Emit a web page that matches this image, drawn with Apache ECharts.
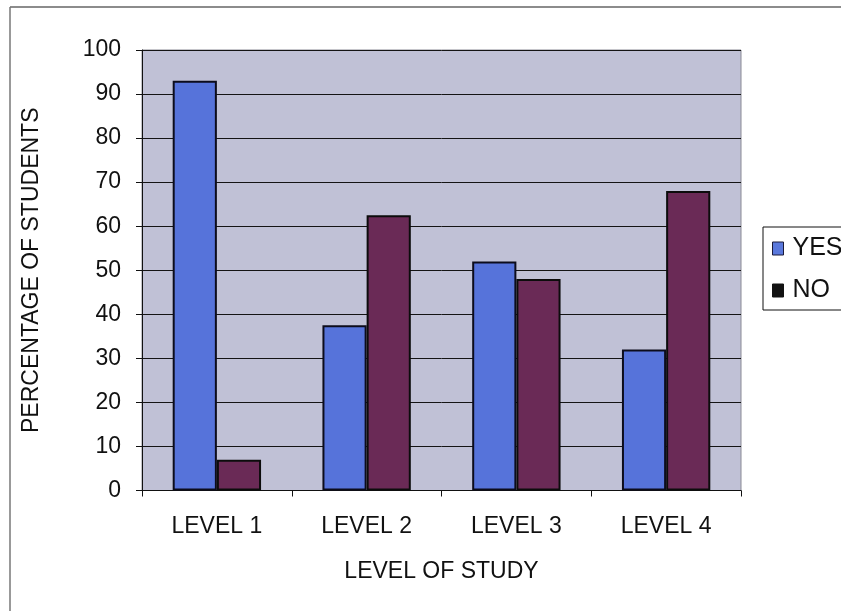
<!DOCTYPE html>
<html>
<head>
<meta charset="utf-8">
<script src="https://cdn.jsdelivr.net/npm/echarts@6/dist/echarts.min.js"></script>
<style>
  html, body { margin: 0; padding: 0; background: #fff; }
  #chart { width: 841px; height: 611px; }
</style>
</head>
<body>
<div id="chart"></div>
<script>
// Survey answers by level of study (percent of students)
const levels = ['LEVEL 1', 'LEVEL 2', 'LEVEL 3', 'LEVEL 4'];
const yesValues = [93, 37.5, 52, 32];
const noValues = [7, 62.5, 48, 68];
const seriesNames = ['YES', 'NO'];

const FONT = '"Liberation Sans", Arial, sans-serif';
const chart = echarts.init(document.getElementById('chart'), null, { renderer: 'canvas' });

chart.setOption({
  backgroundColor: '#ffffff',
  animation: false,
  textStyle: { fontFamily: FONT, color: '#111' },
  graphic: [
    { type: 'line', shape: { x1: 10, y1: 7, x2: 841, y2: 7 }, style: { stroke: '#666', lineWidth: 1.5 } },
    { type: 'line', shape: { x1: 10, y1: 7, x2: 10, y2: 611 }, style: { stroke: '#777', lineWidth: 1.5 } }
  ],
  grid: {
    left: 142, right: 100, top: 50, bottom: 120.5,
    show: true, backgroundColor: '#c0c1d6', borderColor: '#8a8a95', borderWidth: 1
  },
  legend: {
    data: [
      { name: seriesNames[0], itemStyle: { color: '#5a78dc', borderColor: '#1a1a3a', borderWidth: 1 } },
      { name: seriesNames[1], itemStyle: { color: '#121212', borderColor: '#121212', borderWidth: 1 } }
    ],
    orient: 'vertical',
    left: 763, top: 227,
    icon: 'rect',
    itemWidth: 11, itemHeight: 13,
    itemGap: 17,
    padding: [9, 40, 7, 9],
    borderColor: '#111', borderWidth: 1,
    textStyle: { fontSize: 25, fontFamily: FONT, color: '#111', padding: [0, 0, 0, 4] }
  },
  xAxis: {
    type: 'category',
    data: levels,
    name: 'LEVEL OF STUDY',
    nameLocation: 'middle',
    nameGap: 70,
    nameTextStyle: { fontSize: 23, fontFamily: FONT, color: '#111' },
    axisLine: { lineStyle: { color: '#111', width: 1 } },
    axisTick: { show: true, length: 6, lineStyle: { color: '#111' } },
    axisLabel: { fontSize: 23, fontFamily: FONT, color: '#111', margin: 25 },
    splitLine: { show: false }
  },
  yAxis: {
    type: 'value',
    min: 0, max: 100, interval: 10,
    name: 'PERCENTAGE OF STUDENTS',
    nameLocation: 'middle',
    nameGap: 99,
    nameTextStyle: { fontSize: 23, fontFamily: FONT, color: '#111' },
    axisLine: { show: true, lineStyle: { color: '#111', width: 1 } },
    axisTick: { show: true, inside: false, length: 6, lineStyle: { color: '#111' } },
    axisLabel: { fontSize: 23, fontFamily: FONT, color: '#111', margin: 21 },
    splitLine: { show: true, lineStyle: { color: '#141414', width: 1 } }
  },
  series: [
    {
      name: seriesNames[0], type: 'bar', data: yesValues,
      barGap: '0%', barCategoryGap: '41%',
      itemStyle: { color: '#5673da', borderColor: '#0c0c1c', borderWidth: 2 }
    },
    {
      name: seriesNames[1], type: 'bar', data: noValues,
      barGap: '0%', barCategoryGap: '41%',
      itemStyle: { color: '#6a2a56', borderColor: '#0c0c0c', borderWidth: 2 }
    }
  ]
});
</script>
</body>
</html>
